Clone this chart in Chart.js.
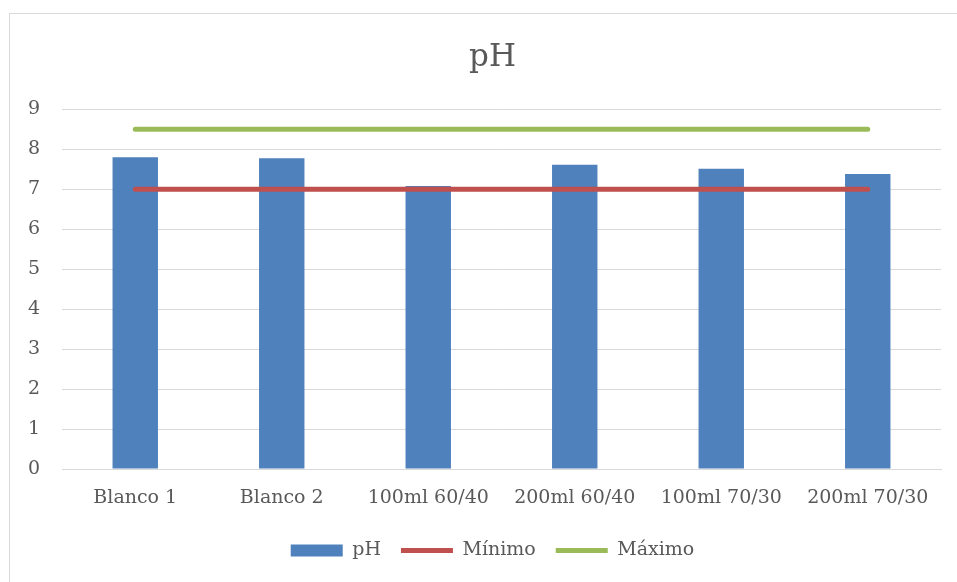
<!DOCTYPE html>
<html>
<head>
<meta charset="utf-8">
<script src="https://cdn.jsdelivr.net/npm/chart.js@4.4.1/dist/chart.umd.min.js"></script>
<style>
  html, body { margin: 0; padding: 0; background: #fff; overflow: hidden; width: 957px; height: 582px; }
  #frame { position: absolute; left: 9px; top: 13px; width: 980px; height: 600px; border: 1px solid #D9D9D9; box-sizing: border-box; }
  #wrap { position: absolute; left: 0; top: 0; width: 985px; height: 582px; }
</style>
</head>
<body>
<div id="frame"></div>
<div id="wrap"><canvas id="c" width="985" height="582"></canvas></div>
<script>
const categories = ['Blanco 1', 'Blanco 2', '100ml 60/40', '200ml 60/40', '100ml 70/30', '200ml 70/30'];
const phValues = [7.80, 7.77, 7.08, 7.61, 7.51, 7.38];
const minValues = [7, 7, 7, 7, 7, 7];
const maxValues = [8.5, 8.5, 8.5, 8.5, 8.5, 8.5];
const yTicks = [0, 1, 2, 3, 4, 5, 6, 7, 8, 9];

const FONT = "'DejaVu Serif', 'Liberation Serif', serif";
const TXT = '#595959';

new Chart(document.getElementById('c'), {
  data: {
    labels: categories,
    datasets: [
      { type: 'bar', label: 'pH', data: phValues, backgroundColor: '#4F81BD', borderWidth: 0,
        barPercentage: 0.62, categoryPercentage: 0.5, order: 3, pointStyle: 'rect' },
      { type: 'line', label: 'Mínimo', data: minValues, borderColor: '#C0504D', backgroundColor: '#C0504D',
        borderWidth: 5, borderCapStyle: 'round', pointRadius: 0, order: 1, pointStyle: 'line' },
      { type: 'line', label: 'Máximo', data: maxValues, borderColor: '#9BBB59', backgroundColor: '#9BBB59',
        borderWidth: 5, borderCapStyle: 'round', pointRadius: 0, order: 2, pointStyle: 'line' }
    ]
  },
  options: {
    responsive: false,
    animation: false,
    layout: { padding: { left: 0, right: 0, top: 0, bottom: 12 } },
    plugins: {
      tooltip: { enabled: false },
      title: { display: true, text: 'pH', color: TXT, font: { family: FONT, size: 31, weight: 'normal' },
               padding: { top: 39, bottom: 33 } },
      legend: {
        position: 'bottom',
        labels: {
          color: TXT, font: { family: FONT, size: 19 },
          usePointStyle: true, pointStyleWidth: 52, boxHeight: 12, boxWidth: 52, padding: 20,
          sort: (a, b) => a.datasetIndex - b.datasetIndex
        }
      }
    },
    scales: {
      x: {
        grid: { display: false },
        border: { display: true, color: '#D9D9D9', width: 1 },
        ticks: { color: TXT, font: { family: FONT, size: 19 }, padding: 10, maxRotation: 0, autoSkip: false },
        afterFit: (s) => { s.height = 52; }
      },
      y: {
        min: 0, max: 9,
        afterBuildTicks: (s) => { s.ticks = yTicks.map(v => ({ value: v })); },
        grid: { color: '#D9D9D9', lineWidth: 1, drawTicks: false },
        border: { display: false },
        ticks: { color: TXT, font: { family: FONT, size: 19 }, padding: 22 },
        afterFit: (s) => { s.width = 62; }
      },
      spacer: {
        type: 'linear', position: 'right', display: true,
        grid: { display: false }, border: { display: false }, ticks: { display: false },
        afterFit: (s) => { s.width = 44; }
      }
    }
  }
});
</script>
</body>
</html>
